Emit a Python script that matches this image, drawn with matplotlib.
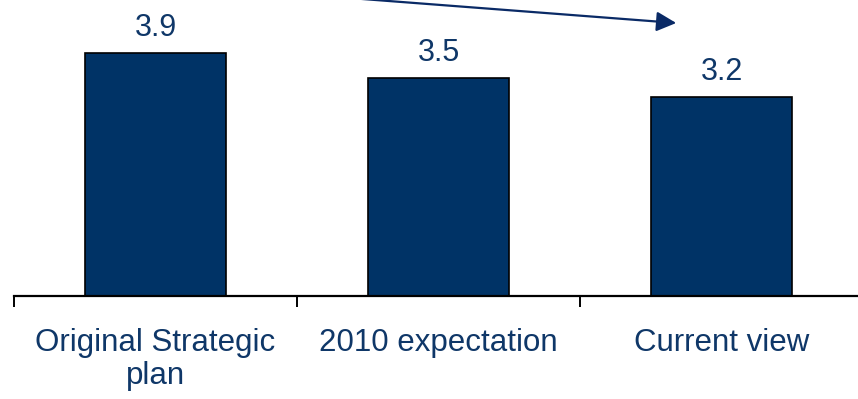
import matplotlib
matplotlib.use("Agg")
import matplotlib.pyplot as plt
from matplotlib.ticker import FixedLocator

categories = ["Original Strategic\nplan", "2010 expectation", "Current view"]
values = [3.9, 3.5, 3.2]
value_labels = ["3.9", "3.5", "3.2"]

W, H = 858, 399
fig = plt.figure(figsize=(W / 100, H / 100), dpi=100)
plt.rcParams['font.family'] = ['Liberation Sans', 'DejaVu Sans']

bar_color = "#003366"
text_color = "#0F3768"

ax = fig.add_axes([14 / W, 103 / H, 849 / W, 296 / H])
x = list(range(len(categories)))
ax.bar(x, values, width=0.5, color=bar_color, edgecolor="black", linewidth=1.2, zorder=2)
ax.set_xlim(-0.5, 2.5)
ax.set_ylim(0, 4.76)

for xi, v, lab in zip(x, values, value_labels):
    ax.annotate(lab, (xi, v), xytext=(0, 12.5), textcoords="offset points",
                ha="center", va="baseline", fontsize=22, color=text_color)

for s in ["top", "right", "left"]:
    ax.spines[s].set_visible(False)
ax.spines["bottom"].set_linewidth(1.6)
ax.spines["bottom"].set_color("black")
ax.set_yticks([])
ax.set_xticks(x)
ax.set_xticklabels(categories, fontsize=22.5, color=text_color, linespacing=1.12, va="top")
ax.tick_params(axis="x", which="major", length=0, pad=23)
ax.xaxis.set_minor_locator(FixedLocator([-0.5, 0.5, 1.5, 2.5]))
ax.tick_params(axis="x", which="minor", length=8, width=1.4, color="black", direction="out")

ax.annotate("", xy=(1.84, 4.39), xytext=(0.72, 4.78),
            xycoords="data", textcoords="data", annotation_clip=False,
            arrowprops=dict(arrowstyle="-|>", color="#0A2A66", lw=1.6,
                            mutation_scale=30, shrinkA=0, shrinkB=0))

fig.savefig("out.png", dpi=100)
